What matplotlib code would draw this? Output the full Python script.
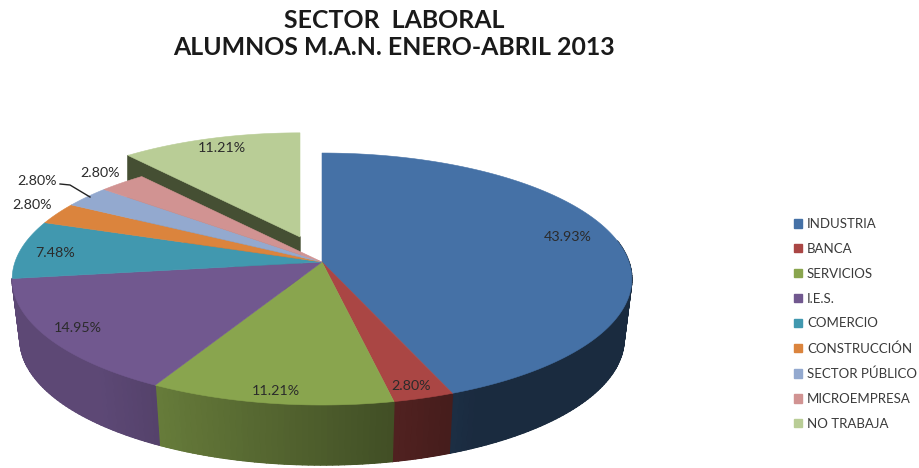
import numpy as np
import matplotlib
matplotlib.use("Agg")
import matplotlib.pyplot as plt
from matplotlib.patches import Polygon, Patch
from matplotlib.collections import PolyCollection

categories = ["INDUSTRIA", "BANCA", "SERVICIOS", "I.E.S.", "COMERCIO",
              "CONSTRUCCIÓN", "SECTOR PÚBLICO", "MICROEMPRESA", "NO TRABAJA"]
values = [43.93, 2.80, 11.21, 14.95, 7.48, 2.80, 2.80, 2.80, 11.21]
colors = ["#4571A6", "#AA4644", "#89A54E", "#71588F", "#4198AF",
          "#DB843D", "#93A9CF", "#D19392", "#B9CD96"]
title_lines = "SECTOR  LABORAL\nALUMNOS M.A.N. ENERO-ABRIL 2013"

plt.rcParams['font.family'] = ['Lato', 'DejaVu Sans']
W, H = 919, 468
fig = plt.figure(figsize=(W / 100, H / 100), dpi=100)
ax = fig.add_axes([0, 0, 1, 1])
ax.set_xlim(0, W)
ax.set_ylim(H, 0)
ax.axis("off")

CX, CY = 322, 262
B, A, K = 307, 123.7, 0.135
DEPTH, BOTTOM_SCALE = 60, 0.975


def project(deg, r=1.0, cx=CX, cy=CY):
    t = np.radians(deg)
    u, v = r * np.sin(t), r * np.cos(t)
    d = 1 + K * v
    return cx + B * u / d, cy - A * v / d


def shade(color, f):
    c = np.array(matplotlib.colors.to_rgb(color))
    return tuple(c * f)


def wall_factor(deg):
    return np.clip(0.56 - 0.4 * np.sin(np.radians(deg)), 0.38, 0.82)


def top_face(a0, a1, color, r=1.0, cx=CX, cy=CY, z=3):
    th = np.linspace(a0, a1, 120)
    x, y = project(th, r, cx, cy)
    pts = np.column_stack([np.r_[cx, x], np.r_[cy, y]])
    ax.add_patch(Polygon(pts, closed=True, fc=color, ec=color, lw=0.4, zorder=z))


edges = np.r_[0, np.cumsum(values)] / sum(values) * 360

# exploded slice
EX, EY, ER = 300, 237, 0.95
a0, a1 = edges[-2], edges[-1]
xl, yl = project(a0, ER, EX, EY)
cut = [(xl, yl), (EX, EY), (EX, EY + DEPTH), (xl, yl + DEPTH)]
ax.add_patch(Polygon(cut, closed=True, fc="#454F33", ec="#454F33", zorder=1))
top_face(a0, a1, colors[-1], ER, EX, EY, z=2)

# side wall of the main pie: only the first four slices face the viewer
quads, qcols = [], []
for i in range(4):
    lo, hi = max(edges[i], 80), edges[i + 1]
    th = np.arange(lo, hi + 1.0, 1.0)
    th[-1] = hi
    x, y = project(th)
    xb, yb = CX + (x - CX) * BOTTOM_SCALE, y + DEPTH
    outline = np.column_stack([np.r_[x, xb[::-1]], np.r_[y, yb[::-1]]])
    mid = shade(colors[i], wall_factor(0.5 * (lo + hi)))
    ax.add_patch(Polygon(outline, closed=True, fc=mid, ec=mid, lw=0.5, zorder=3))
    for j in range(len(th) - 1):
        quads.append([(x[j], y[j]), (x[j + 1], y[j + 1]),
                       (xb[j + 1], yb[j + 1]), (xb[j], yb[j])])
        qcols.append(shade(colors[i], wall_factor(th[j])))
ax.add_collection(PolyCollection(quads, facecolors=qcols, edgecolors=qcols,
                                 linewidths=1.0, zorder=3.5))

# top of the main pie
for i in range(len(values) - 1):
    top_face(edges[i], edges[i + 1], colors[i], z=4)

# data labels
label_pos = [(568, 237), (411, 386), (276, 391), (78, 328), (55, 253),
             (32, 205), (37, 181), (100, 173), (222, 148)]
for v, (lx, ly) in zip(values, label_pos):
    ax.text(lx, ly, f"{v:.2f}%", ha="center", va="center", fontsize=10.3,
            color="#2b2b2b", zorder=6)
ax.plot([60, 70, 90], [184, 185, 197], color="#222222", lw=1.0, zorder=6)

# title
ax.text(394, 34, title_lines, ha="center", va="center", fontsize=17.9,
        fontweight="bold", color="#1a1a1a", linespacing=1.24, zorder=6)

# legend
handles = [Patch(fc=c, ec=c, label=n) for c, n in zip(colors, categories)]
ax.legend(handles=handles, loc="upper left", bbox_to_anchor=(794 / W, 1 - 218 / H),
          bbox_transform=fig.transFigure, frameon=False, fontsize=9.55,
          labelcolor="#3a3a3a", handlelength=0.6, handleheight=0.6,
          handletextpad=0.38, labelspacing=0.97, borderpad=0, borderaxespad=0)

fig.savefig("out.png", dpi=100)
